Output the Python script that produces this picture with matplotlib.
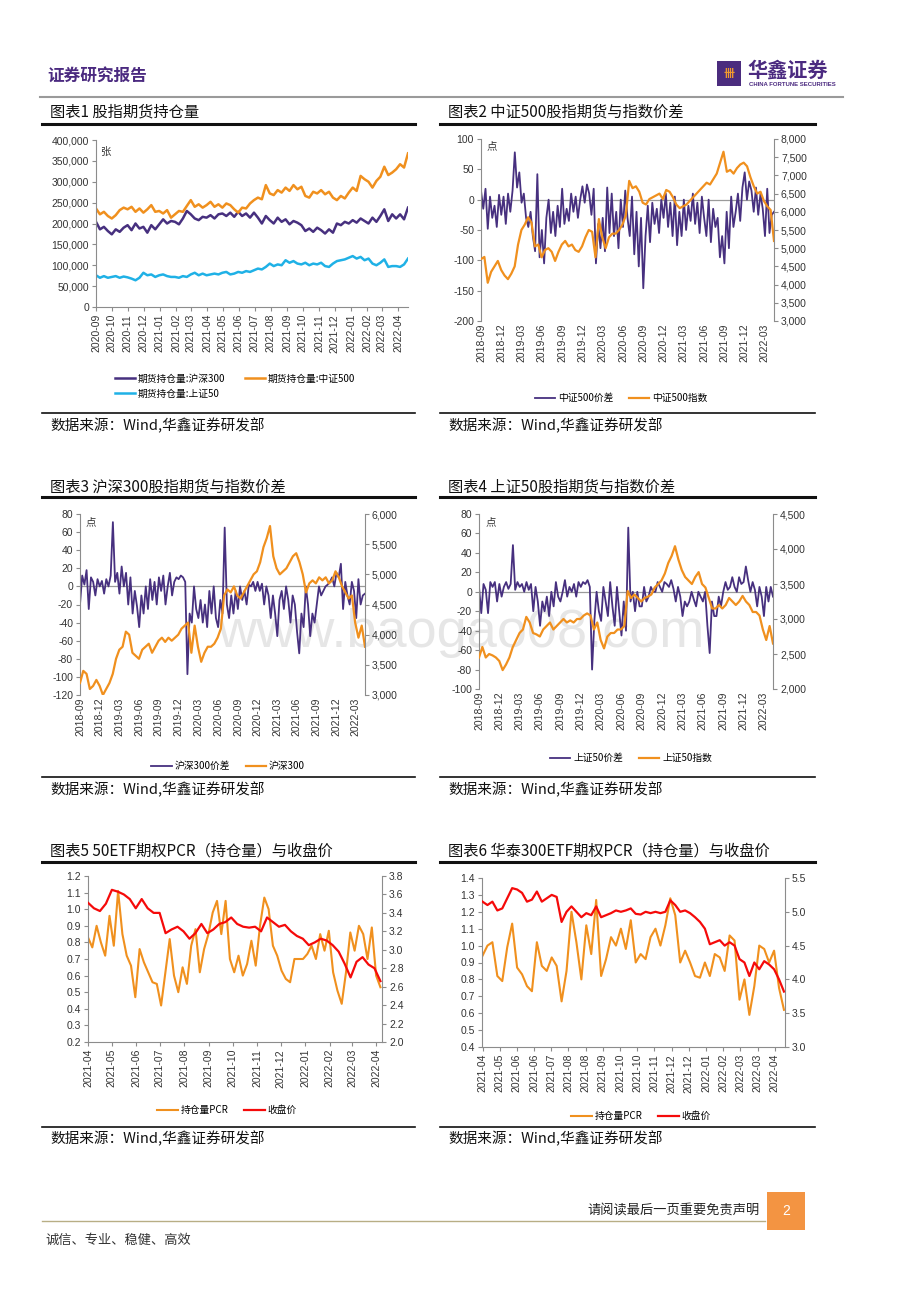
import numpy as np
import pandas as pd
import matplotlib
matplotlib.use('Agg')
import matplotlib.pyplot as plt
from matplotlib.lines import Line2D
from matplotlib.patches import Rectangle
from matplotlib.ticker import FuncFormatter, MultipleLocator
import matplotlib.dates as md

W, H = 920, 1302
CJK = ['Noto Sans CJK SC', 'DejaVu Sans']
NUM = ['Liberation Sans', 'DejaVu Sans']
plt.rcParams['font.family'] = NUM
plt.rcParams['axes.unicode_minus'] = False

PURPLE = '#47307f'
ORANGE = '#f0901e'
CYAN = '#1fb1e6'
RED = '#f50a0a'
AXC = '#8c8c8c'

# ---------------- data ----------------
# chart 1: futures open interest, thousands of contracts, 2020-09 .. 2022-04-20
oi_hs300_k = [204, 186, 192, 182, 174, 186, 180, 190, 196, 184, 200, 188, 192, 178, 196, 186,
              198, 210, 200, 206, 204, 198, 212, 230, 222, 212, 208, 216, 214, 220, 212, 222,
              224, 218, 226, 216, 228, 218, 224, 214, 226, 214, 200, 218, 208, 200, 214, 204,
              210, 198, 206, 202, 196, 182, 188, 180, 190, 184, 176, 186, 178, 200, 196, 204,
              200, 208, 202, 212, 206, 200, 214, 204, 218, 234, 206, 222, 212, 222, 210, 238]
oi_zz500_k = [236, 222, 228, 218, 212, 220, 232, 238, 234, 240, 228, 236, 226, 234, 244, 228,
              230, 224, 232, 214, 222, 230, 228, 242, 256, 240, 246, 238, 244, 252, 240, 246,
              238, 248, 244, 234, 226, 238, 236, 248, 256, 262, 258, 292, 272, 268, 280, 274,
              286, 278, 292, 282, 288, 266, 262, 276, 272, 280, 270, 276, 262, 256, 266, 260,
              274, 286, 278, 314, 306, 300, 286, 302, 312, 336, 316, 322, 330, 342, 334, 368]
oi_sz50_k = [76, 70, 74, 70, 72, 74, 70, 73, 71, 68, 64, 70, 82, 76, 78, 72,
             76, 78, 74, 72, 72, 70, 74, 72, 78, 82, 76, 80, 76, 78, 80, 78,
             82, 84, 78, 80, 84, 82, 86, 84, 88, 92, 90, 96, 104, 98, 102, 100,
             112, 106, 110, 104, 102, 106, 100, 104, 102, 106, 98, 96, 104, 110, 112, 114,
             118, 122, 116, 120, 112, 116, 104, 100, 106, 114, 96, 98, 98, 96, 102, 116]

# chart 2: CSI500 basis (points) and CSI500 index, 2018-09 .. 2022-04
basis_zz500 = [15, -15, 18, -48, 5, -30, -10, -45, 8, -25, 5, -40, 10, -20, 15,
               78, 20, 45, -5, 10, -30, -45, -20, -60, -85, 42, -95, -50, -105, -30,
               0, -55, -20, -60, -10, -45, 18, -40, -15, -35, 10, -20, 5, -30, 0,
               22, -5, 25, 10, -25, 18, -105, -40, -80, -30, -85, 20, -55, 10, -60,
               -20, -80, 0, -45, 15, -30, -60, 5, -90, -20, -110, -30, -146, -60, -10,
               -70, -5, -40, -15, -55, 0, -30, 10, -45, -5, -60, 5, -75, -20, -60,
               0, -50, -10, -35, 10, -40, -5, -55, 5, -30, -60, 0, -70, -15, -45,
               -30, -95, -60, -105, -20, -80, 5, -45, -20, 10, -35, 20, 45, 0, 30,
               15, -20, 20, -25, 10, -15, -60, 18, -55, -25, -20]
idx_zz500 = [4700, 4760, 4050, 4350, 4500, 4650, 4400, 4250, 4150, 4300, 4500, 5100,
             5500, 5650, 5850, 5700, 5050, 5100, 4750, 4950, 5000, 4900, 4650, 4900,
             5100, 5200, 5050, 5100, 4950, 4900, 5050, 5300, 5500, 5450, 4750, 5800,
             5300, 5000, 5300, 5400, 5400, 5500, 5650, 5900, 6850, 6650, 6700, 6550,
             6250, 6200, 6350, 6400, 6450, 6500, 6350, 6600, 6550, 6400, 6200, 6100,
             6150, 6200, 6300, 6400, 6500, 6600, 6700, 6800, 6750, 6900, 7050, 7350,
             7650, 7100, 7150, 7050, 7200, 7300, 7350, 7250, 6950, 6700, 6500, 6550,
             6300, 6150, 6050, 5200]

# chart 3: CSI300 basis and CSI300 index
basis_hs300 = [-20, 12, 2, 18, -25, 10, 5, -10, 8, 0, 6, -8, 8, 0, 12,
               71, 5, 15, -8, 22, 0, 15, -20, 10, -30, -5, -22, -45, -10, -30,
               0, -25, 8, -15, 5, -20, 10, -5, 12, -20, 0, 15, -10, 5, 10,
               8, 12, 10, 5, -97, -30, -40, 0, -25, -35, -15, -40, -20, -45, -5,
               -30, 0, -35, -45, -15, -30, 65, -20, -35, -10, -30, -5, -25, 0, -15,
               -5, -20, 2, 0, 5, -5, 5, -5, 3, -20, 0, -10, -35, -10, -30,
               -55, -15, -5, -25, 0, -15, -40, -10, -20, -50, -74, -30, -45, 0, -20,
               -55, -30, -40, -20, 0, -10, -5, 0, 2, 5, 10, 0, 15, 10, 25,
               -25, 5, -10, -20, 5, -5, -35, 8, -20, -10, -8]
idx_hs300 = [3200, 3400, 3350, 3100, 3150, 3250, 3150, 3000, 3100, 3200, 3350, 3600,
             3750, 3800, 4050, 4000, 3700, 3650, 3600, 3750, 3800, 3850, 3700, 3800,
             3900, 3950, 3880, 3950, 3900, 3950, 4000, 4100, 4150, 4200, 3700, 4150,
             3800, 3550, 3700, 3800, 3800, 3850, 3950, 4100, 4650, 4750, 4700, 4800,
             4650, 4600, 4700, 4800, 4900, 5000, 5050, 5200, 5450, 5600, 5800, 5300,
             5100, 5000, 5050, 5100, 5200, 5300, 5350, 5200, 5000, 4700, 4850, 4900,
             4850, 4950, 4900, 4950, 4850, 4900, 5050, 4950, 4800, 4700, 4600, 4650,
             4200, 3950, 4150, 3800]

# chart 4: SSE50 basis and SSE50 index
basis_sz50 = [5, -22, 8, 2, -22, 10, 5, 10, -10, 8, -5, 5, 10, 3, 8,
              48, 2, 10, 5, 8, 0, 10, 2, 8, -20, 5, -10, -35, -10, -20,
              -5, -25, 0, -15, 10, -5, -10, 0, 12, -5, 5, 0, 8, -5, 10,
              5, 10, 8, 12, 5, -80, -30, 0, -20, -30, 5, -10, -25, 10, -15,
              -35, 5, -20, -45, -10, -40, 66, -10, 0, -20, 0, -15, -15, 5, -10,
              -5, 5, 0, 0, 10, 5, 0, 10, 8, 5, 12, 3, -10, 5, -5,
              -25, -10, -15, -10, 0, -8, -15, 0, -5, -10, 0, -35, -63, -10, -25,
              -25, -5, -15, 0, 10, 2, 5, 15, 5, 0, 15, 8, 10, 26, 12,
              0, 10, 2, -15, 5, -5, -25, 5, -10, 5, -5]
idx_sz50 = [2450, 2600, 2450, 2500, 2480, 2450, 2400, 2270, 2350, 2450, 2600, 2700,
            2800, 2850, 3030, 2950, 2800, 2780, 2750, 2850, 2900, 2950, 2850, 2900,
            2950, 3000, 2950, 2980, 2950, 3000, 3000, 3050, 3080, 3050, 2850, 2950,
            2700, 2580, 2750, 2800, 2800, 2850, 2850, 2900, 3400, 3300, 3350, 3300,
            3250, 3300, 3320, 3350, 3450, 3500, 3550, 3650, 3800, 3900, 4040, 3850,
            3700, 3600, 3550, 3500, 3600, 3670, 3500, 3450, 3300, 3150, 3150, 3200,
            3150, 3200, 3300, 3250, 3200, 3250, 3330, 3250, 3200, 3100, 3100, 3050,
            2850, 2700, 2900, 2650]

# chart 5: 50ETF option PCR (open interest) and close, 2021-04 .. 2022-04
pcr_50etf = [0.83, 0.77, 0.90, 0.80, 0.72, 0.96, 0.78, 1.11, 0.85, 0.72, 0.66,
             0.47, 0.76, 0.68, 0.62, 0.56, 0.55, 0.42, 0.62, 0.82, 0.60, 0.50,
             0.65, 0.55, 0.78, 0.88, 0.62, 0.76, 0.85, 0.98, 1.05, 0.85, 1.05,
             0.70, 0.62, 0.72, 0.60, 0.67, 0.81, 0.66, 0.90, 1.07, 1.00,
             0.78, 0.72, 0.63, 0.58, 0.56, 0.70, 0.70, 0.70, 0.73, 0.78, 0.70,
             0.85, 0.75, 0.87, 0.62, 0.51, 0.43, 0.62, 0.86, 0.75, 0.90, 0.85,
             0.70, 0.89, 0.60, 0.53]
close_50etf = [3.51, 3.45, 3.42, 3.50, 3.65, 3.63, 3.60, 3.55, 3.45, 3.55, 3.45, 3.40,
               3.40, 3.18, 3.22, 3.25, 3.20, 3.12, 3.18, 3.28, 3.18, 3.22, 3.28, 3.30,
               3.35, 3.28, 3.25, 3.24, 3.25, 3.20, 3.35, 3.30, 3.25, 3.27, 3.20, 3.15,
               3.12, 3.05, 3.08, 3.12, 3.10, 3.05, 2.98, 2.85, 2.70, 2.87, 2.92, 2.84,
               2.80, 2.66]

# chart 6: Huatai 300ETF option PCR and close
pcr_300etf = [0.94, 1.00, 1.02, 0.82, 0.79, 0.99, 1.13, 0.87, 0.83, 0.76, 0.73, 1.02,
              0.88, 0.85, 0.93, 0.88, 0.67, 0.85, 1.20, 1.02, 0.80, 1.12, 0.95, 1.27,
              0.82, 0.92, 1.05, 1.00, 1.10, 0.98, 1.15, 0.90, 0.95, 0.92, 1.05, 1.10,
              1.00, 1.12, 1.28, 1.18, 0.90, 0.97, 0.90, 0.82, 0.81, 0.90, 0.82, 0.95,
              0.93, 0.85, 1.06, 1.03, 0.68, 0.80, 0.59, 0.76, 1.00, 0.98, 0.90, 0.97,
              0.75, 0.62]
close_300etf = [5.15, 5.10, 5.15, 5.02, 5.05, 5.20, 5.35, 5.33, 5.28, 5.15, 5.18, 5.30,
                5.15, 5.20, 5.25, 5.22, 4.85, 5.00, 5.08, 5.00, 4.92, 4.98, 4.95, 5.08,
                4.92, 4.95, 4.98, 5.02, 5.00, 5.02, 5.05, 4.97, 4.96, 5.00, 4.98, 5.00,
                4.98, 5.00, 5.17, 5.10, 5.00, 5.02, 4.98, 4.92, 4.85, 4.75, 4.52, 4.55,
                4.58, 4.50, 4.55, 4.50, 4.30, 4.25, 4.05, 4.25, 4.15, 4.27, 4.22, 4.15,
                4.00, 3.82]
labels_300etf = ['2021-04', '2021-05', '2021-06', '2021-06', '2021-07', '2021-08', '2021-08',
                 '2021-09', '2021-10', '2021-10', '2021-11', '2021-12', '2021-12', '2022-01',
                 '2022-02', '2022-03', '2022-03', '2022-04']

# ---------------- helpers ----------------
fig = plt.figure(figsize=(W / 100, H / 100), dpi=100)


def rect(x0, y0, x1, y1):
    return [x0 / W, 1 - y1 / H, (x1 - x0) / W, (y1 - y0) / H]


def ftext(x, y, s, **kw):
    kw.setdefault('va', 'center')
    return fig.text(x / W, 1 - y / H, s, **kw)


def hline(x0, x1, y, lw, color):
    fig.add_artist(Line2D([x0 / W, x1 / W], [1 - y / H] * 2, lw=lw, color=color))


def style(ax, bottom=True):
    for s in ['top', 'right']:
        ax.spines[s].set_visible(False)
    ax.spines['left'].set_color(AXC)
    ax.spines['bottom'].set_color(AXC)
    ax.spines['bottom'].set_visible(bottom)
    ax.patch.set_alpha(0)
    ax.tick_params(axis='y', colors='#333333', labelsize=7.5, length=3, width=0.8, color=AXC, pad=2)
    ax.tick_params(axis='x', colors='#333333', labelsize=7.5, length=3 if bottom else 0,
                   width=0.8, color=AXC, pad=2, labelrotation=90)


def twin(ax):
    tx = ax.twinx()
    for s in ['top', 'left', 'bottom']:
        tx.spines[s].set_visible(False)
    tx.spines['right'].set_color(AXC)
    tx.tick_params(axis='y', colors='#333333', labelsize=7.5, length=3, width=0.8, color=AXC, pad=2)
    return tx


def legend(ax, handles, labels, cx, cy, ncol, colsp=1.6):
    ax.legend(handles, labels, loc='center', bbox_to_anchor=(cx / W, 1 - cy / H),
              bbox_transform=fig.transFigure, ncol=ncol, frameon=False,
              prop={'family': CJK, 'size': 7}, handlelength=2.1, handletextpad=0.3,
              columnspacing=colsp, labelspacing=0.5, borderpad=0)


comma = FuncFormatter(lambda v, p: f'{v:,.0f}')
ymfmt = md.DateFormatter('%Y-%m')

# ---------------- page frame ----------------
ftext(47, 76, '证券研究报告', family=CJK, fontsize=12, fontweight='bold', color='#4b2a80')
fig.add_artist(Rectangle((717 / W, 1 - 86 / H), 24 / W, 25 / H, transform=fig.transFigure,
                         facecolor='#4b2c7e', edgecolor='none'))
ftext(729, 74, '卌', family=CJK, fontsize=8, color='#f29a2e', ha='center', fontweight='bold')
ftext(747, 70, '华鑫证券', family=CJK, fontsize=14.5, color='#4b2a80', fontweight='bold')
ftext(749, 85, 'CHINA FORTUNE SECURITIES', fontsize=4.3, color='#4b2a80', fontweight='bold')
hline(40, 843, 97, 1.5, '#9a9a9a')

ftext(461, 633, 'www.baogao08.com', fontsize=39, color='#e6e6e6', ha='center', zorder=-5)

blocks = [(112, 124, 413, 426, '图表1 股指期货持仓量', '图表2 中证500股指期货与指数价差'),
          (487, 497, 777, 790, '图表3 沪深300股指期货与指数价差', '图表4 上证50股指期货与指数价差'),
          (851, 862, 1127, 1139, '图表5 50ETF期权PCR（持仓量）与收盘价',
           '图表6 华泰300ETF期权PCR（持仓量）与收盘价')]
for ty, ly, by, sy, t1, t2 in blocks:
    for x0, x1, tt in [(42, 415, t1), (440, 815, t2)]:
        ftext(x0 + 8, ty, tt, family=CJK, fontsize=11, color='#111111')
        hline(x0, x1, ly, 2.2, '#111111')
        hline(x0, x1, by, 1.2, '#111111')
        ftext(x0 + 8, sy, '数据来源：Wind,华鑫证券研发部', family=CJK, fontsize=10.5, color='#111111')

ftext(760, 1211, '请阅读最后一页重要免责声明', family=CJK, fontsize=9.5, color='#222222', ha='right')
fig.add_artist(Rectangle((767 / W, 1 - 1230 / H), 38 / W, 38 / H, transform=fig.transFigure,
                         facecolor='#f39442', edgecolor='none'))
ftext(786, 1211, '2', fontsize=10, color='white', ha='center')
hline(42, 765, 1221, 1.0, '#b8ae85')
ftext(45, 1240, '诚信、专业、稳健、高效', family=CJK, fontsize=9.5, color='#333333')

# ---------------- chart 1 ----------------
ax = fig.add_axes(rect(96, 140, 408, 307))
style(ax)
d1 = pd.date_range('2020-09-01', '2022-04-20', periods=len(oi_hs300_k))
h1, = ax.plot(d1, oi_hs300_k, color=PURPLE, lw=1.8)
h2, = ax.plot(d1, oi_zz500_k, color=ORANGE, lw=1.8)
h3, = ax.plot(d1, oi_sz50_k, color=CYAN, lw=1.8)
ax.set_ylim(0, 400)
ax.yaxis.set_major_locator(MultipleLocator(50))
ax.yaxis.set_major_formatter(FuncFormatter(lambda v, p: f'{v * 1000:,.0f}'))
ax.set_xlim(pd.Timestamp('2020-09-01'), pd.Timestamp('2022-04-20'))
ax.set_xticks(pd.date_range('2020-09-01', '2022-04-01', freq='MS'))
ax.xaxis.set_major_formatter(ymfmt)
ftext(100, 152, '张', family=CJK, fontsize=7.5, color='#333333')
legend(ax, [h1, h3, h2], ['期货持仓量:沪深300', '期货持仓量:上证50', '期货持仓量:中证500'],
       235, 386, 2, colsp=2.0)

# ---------------- charts 2-4 (basis vs index) ----------------
spec = [
    (rect(481, 139, 774, 321), basis_zz500, idx_zz500, (-200, 100, 50), (3000, 8000, 500),
     ('中证500价差', '中证500指数'), (621, 398), (487, 146)),
    (rect(80, 514, 365, 695), basis_hs300, idx_hs300, (-120, 80, 20), (3000, 6000, 500),
     ('沪深300价差', '沪深300'), (228, 766), (86, 522)),
    (rect(479, 514, 773, 689), basis_sz50, idx_sz50, (-100, 80, 20), (2000, 4500, 500),
     ('上证50价差', '上证50指数'), (631, 758), (486, 522)),
]
t0, t1 = pd.Timestamp('2018-09-01'), pd.Timestamp('2022-04-12')
for r, basis, idx, (lo, hi, st), (rlo, rhi, rst), labs, (lx, ly), (px, py) in spec:
    ax = fig.add_axes(r)
    style(ax, bottom=False)
    ax.axhline(0, color='#9a9a9a', lw=0.9, zorder=1)
    db = pd.date_range(t0, t1, periods=len(basis))
    hb, = ax.plot(db, basis, color=PURPLE, lw=1.3, zorder=2)
    ax.set_ylim(lo, hi)
    ax.yaxis.set_major_locator(MultipleLocator(st))
    ax.set_xlim(t0, t1)
    ax.set_xticks(pd.date_range('2018-09-01', '2022-03-01', freq='3MS'))
    ax.xaxis.set_major_formatter(ymfmt)
    tx = twin(ax)
    di = pd.date_range(t0, t1, periods=len(idx))
    hi_, = tx.plot(di, idx, color=ORANGE, lw=1.6)
    tx.set_ylim(rlo, rhi)
    tx.yaxis.set_major_locator(MultipleLocator(rst))
    tx.yaxis.set_major_formatter(comma)
    ftext(px, py, '点', family=CJK, fontsize=7.5, color='#333333')
    legend(tx, [hb, hi_], list(labs), lx, ly, 2, colsp=1.6)

# ---------------- chart 5 ----------------
ax = fig.add_axes(rect(88, 876, 382, 1042))
style(ax)
s0, s1 = pd.Timestamp('2021-04-01'), pd.Timestamp('2022-04-06')
hp, = ax.plot(pd.date_range(s0, s1, periods=len(pcr_50etf)), pcr_50etf, color=ORANGE, lw=1.5)
ax.set_ylim(0.2, 1.2)
ax.yaxis.set_major_locator(MultipleLocator(0.1))
ax.yaxis.set_major_formatter(FuncFormatter(lambda v, p: f'{v:.1f}'))
ax.set_xlim(s0, pd.Timestamp('2022-04-08'))
ax.set_xticks(pd.date_range('2021-04-01', '2022-04-01', freq='MS'))
ax.xaxis.set_major_formatter(ymfmt)
tx = twin(ax)
hc, = tx.plot(pd.date_range(s0, s1, periods=len(close_50etf)), close_50etf, color=RED, lw=1.6)
tx.set_ylim(2.0, 3.8)
tx.yaxis.set_major_locator(MultipleLocator(0.2))
tx.yaxis.set_major_formatter(FuncFormatter(lambda v, p: f'{v:.1f}'))
legend(tx, [hp, hc], ['持仓量PCR', '收盘价'], 227, 1110, 2, colsp=1.6)

# ---------------- chart 6 ----------------
ax = fig.add_axes(rect(482, 878, 785, 1047))
style(ax)
end6 = 17.54
hp, = ax.plot(np.linspace(0, end6, len(pcr_300etf)), pcr_300etf, color=ORANGE, lw=1.5)
ax.set_ylim(0.4, 1.4)
ax.yaxis.set_major_locator(MultipleLocator(0.1))
ax.yaxis.set_major_formatter(FuncFormatter(lambda v, p: f'{v:.1f}'))
ax.set_xlim(-0.03, 17.6)
ax.set_xticks(range(len(labels_300etf)))
ax.set_xticklabels(labels_300etf)
tx = twin(ax)
hc, = tx.plot(np.linspace(0, end6, len(close_300etf)), close_300etf, color=RED, lw=1.6)
tx.set_ylim(3.0, 5.5)
tx.yaxis.set_major_locator(MultipleLocator(0.5))
tx.yaxis.set_major_formatter(FuncFormatter(lambda v, p: f'{v:.1f}'))
legend(tx, [hp, hc], ['持仓量PCR', '收盘价'], 641, 1116, 2, colsp=1.6)

fig.savefig('out.png', dpi=100, facecolor='white')
